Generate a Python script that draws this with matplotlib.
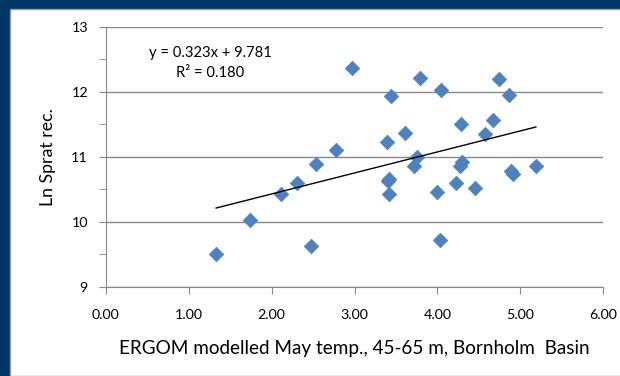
import numpy as np
import matplotlib
matplotlib.use("Agg")
import matplotlib.pyplot as plt
from matplotlib.patches import Rectangle
from matplotlib.ticker import FormatStrFormatter, MultipleLocator

plt.rcParams['font.family'] = ['Lato', 'DejaVu Sans']

# ERGOM modelled May temperature vs Ln sprat recruitment
temp = [1.33, 1.74, 2.11, 2.30, 2.48, 2.54, 2.78, 2.97, 3.39, 3.44, 3.42,
        3.40, 3.42, 3.61, 3.79, 3.75, 3.72, 4.05, 3.99, 4.03, 4.23, 4.28,
        4.27, 4.30, 4.46, 4.58, 4.67, 4.74, 4.87, 4.89, 4.91, 5.19]
ln_rec = [9.50, 10.03, 10.42, 10.60, 9.62, 10.89, 11.10, 12.37, 11.23, 11.93,
          10.65, 10.62, 10.42, 11.37, 12.21, 11.00, 10.86, 12.03, 10.46, 9.72,
          10.60, 11.51, 10.85, 10.92, 10.52, 11.35, 11.56, 12.19, 11.95, 10.78,
          10.74, 10.86]
slope = 0.323
intercept = 9.781
r2 = 0.180

fig = plt.figure(figsize=(6.2, 3.76), dpi=100)
fig.patch.set_facecolor('#023668')
panel = Rectangle((10 / 620, 0), 1, 1 - 9 / 376, transform=fig.transFigure,
                  facecolor='white', edgecolor='#9a9a9a', lw=1, zorder=-10)
fig.add_artist(panel)

ax = fig.add_axes([106 / 620, 1 - 286.7 / 376, (603 - 106) / 620, (286.7 - 26.7) / 376])
ax.set_facecolor('white')

ax.scatter(temp, ln_rec, marker='D', s=55, color='#4F81BD', edgecolor='#4F81BD',
           linewidth=0.5, zorder=3)

# linear trendline over the data range
xs = np.array([min(temp), max(temp)])
ax.plot(xs, slope * xs + intercept, color='black', lw=1, zorder=4)

ax.set_xlim(0, 6)
ax.set_ylim(9, 13)
ax.xaxis.set_major_locator(MultipleLocator(1))
ax.xaxis.set_major_formatter(FormatStrFormatter('%.2f'))
ax.yaxis.set_major_locator(MultipleLocator(1))
ax.yaxis.set_minor_locator(MultipleLocator(0.5))

ax.grid(axis='y', which='major', color='#888888', lw=1)
ax.set_axisbelow(True)
for s in ['top', 'right']:
    ax.spines[s].set_visible(False)
for s in ['left', 'bottom']:
    ax.spines[s].set_color('#888888')
ax.tick_params(axis='both', which='both', color='#888888', direction='out', labelsize=10.3)
ax.tick_params(axis='both', which='major', length=5)
ax.tick_params(axis='y', which='minor', length=5)
ax.tick_params(axis='x', pad=11)
ax.tick_params(axis='y', pad=8)

ax.set_xlabel('ERGOM modelled May temp., 45-65 m, Bornholm  Basin', fontsize=13.6)
ax.set_ylabel('Ln Sprat rec.', fontsize=12.8)
ax.xaxis.set_label_coords(0.5, -0.205)
ax.yaxis.set_label_coords(-0.1016, 0.5)

ax.text(1.256, 12.595, f'y = {slope:.3f}x + {intercept:.3f}', ha='center', va='center', fontsize=10.6)
ax.text(1.256, 12.287, f'R² = {r2:.3f}', ha='center', va='center', fontsize=10.6)

fig.savefig('out.png', dpi=100, facecolor=fig.get_facecolor())
